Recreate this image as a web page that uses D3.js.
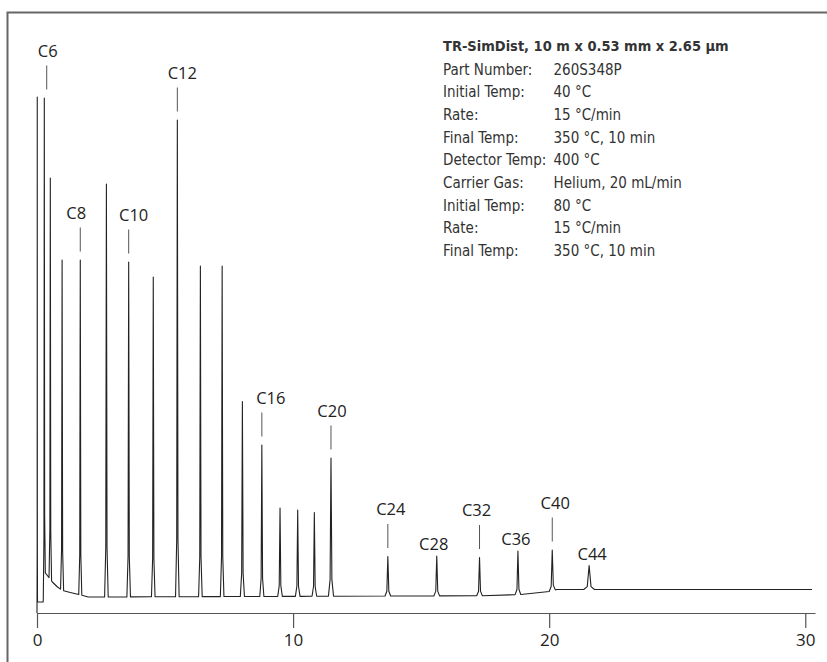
<!DOCTYPE html>
<html lang="en">
<head>
    <meta charset="utf-8">
    <title>TR-SimDist chromatogram</title>
    <script src="https://cdn.jsdelivr.net/npm/d3@7"></script>
    <style>
        body { margin: 0; background: #fff; }
        .legend text { font-family: "DejaVu Sans", sans-serif; font-stretch: condensed; fill: #333; }
        .peak-label { font-family: "Open Sans", sans-serif; font-size: 16.5px; fill: #222; }
        .axis text { font-family: "Open Sans", sans-serif; font-size: 17px; fill: #222; }
    </style>
</head>
<body>
<svg id="chart"></svg>
<script>
    // retention time (min), apex level (% of solvent peak), half base width (min)
    const peakTimes = [0.01, 0.285, 0.52, 0.98, 1.69, 2.71, 3.58, 4.54, 5.48, 6.38, 7.23,
        8.02, 8.78, 9.49, 10.18, 10.83, 11.48, 13.70, 15.61, 17.28, 18.78, 20.12, 21.56];
    const peakHeights = [100, 99.8, 83.8, 67.4, 67.4, 82.6, 67.0, 64.0, 95.4, 66.2, 66.2,
        39.1, 30.4, 17.8, 17.4, 16.9, 27.8, 8.1, 8.2, 7.9, 9.2, 9.4, 6.3];
    const peakWidths = [0.01, 0.04, 0.05, 0.06, 0.06, 0.07, 0.07, 0.07, 0.07, 0.07, 0.07,
        0.08, 0.08, 0.09, 0.09, 0.09, 0.1, 0.11, 0.11, 0.11, 0.11, 0.12, 0.21];

    // baseline drift (solvent tail at the start, column bleed at the end)
    const baseTimes = [0, 0.02, 0.24, 0.3, 0.45, 0.6, 0.8, 1.0, 1.3, 1.7, 2.0, 17.4, 18.9, 20.0, 20.3, 30.26];
    const baseLevels = [-3.2, -1, -1, 5, 4, 3, 2, 1.3, 0.9, 0.4, 0, 0.25, 0.5, 1.1, 1.5, 1.5];

    const labelNames = ["C6", "C8", "C10", "C12", "C16", "C20", "C24", "C28", "C32", "C36", "C40", "C44"];
    const labelTimes = [0.38, 1.69, 3.58, 5.48, 8.78, 11.48, 13.70, 15.61, 17.28, 18.78, 20.12, 21.56];
    const labelHasLine = [true, true, true, true, true, true, true, false, true, false, true, false];

    const xTicks = [0, 10, 20, 30];

    const legendTitle = "TR-SimDist, 10 m x 0.53 mm x 2.65 µm";
    const legendKeys = ["Part Number:", "Initial Temp:", "Rate:", "Final Temp:", "Detector Temp:",
        "Carrier Gas:", "Initial Temp:", "Rate:", "Final Temp:"];
    const legendValues = ["260S348P", "40 °C", "15 °C/min", "350 °C, 10 min", "400 °C",
        "Helium, 20 mL/min", "80 °C", "15 °C/min", "350 °C, 10 min"];

    const width = 827, height = 662;
    const svg = d3.select("#chart").attr("width", width).attr("height", height);

    const x = d3.scaleLinear().domain([0, 30.38]).range([37, 815]);
    const y = d3.scaleLinear().domain([0, 100]).range([597, 97]);
    const base = d3.scaleLinear().domain(baseTimes).range(baseLevels).clamp(true);

    // frame (top and left edges only)
    svg.append("path")
        .attr("d", `M7.5,${height} V12.5 H${width}`)
        .attr("fill", "none")
        .attr("stroke", "#666")
        .attr("stroke-width", 2);

    // x axis
    const axis = svg.append("g")
        .attr("class", "axis")
        .attr("transform", "translate(0,613)")
        .call(d3.axisBottom(x).tickValues(xTicks).tickSize(15).tickSizeOuter(0).tickPadding(6));
    axis.select(".domain").attr("stroke", "#555").attr("stroke-width", 1.2);
    axis.selectAll(".tick line").attr("stroke", "#555").attr("stroke-width", 1.2);

    // build trace: baseline knots outside peaks + a few points per peak
    let pts = [];
    peakTimes.forEach((t, i) => {
        const w = peakWidths[i], h = peakHeights[i];
        const bl = base(t - w), br = base(t + w);
        pts.push([t - w, bl]);
        pts.push([t - 0.35 * w, bl + 0.12 * (h - bl)]);
        pts.push([t, h]);
        pts.push([t + 0.35 * w, br + 0.12 * (h - br)]);
        pts.push([t + w, br]);
    });
    baseTimes.forEach((t, i) => {
        const inside = peakTimes.some((p, j) => t > p - peakWidths[j] && t < p + peakWidths[j]);
        if (!inside) pts.push([t, baseLevels[i]]);
    });
    pts.sort((a, b) => a[0] - b[0]);

    svg.append("path")
        .datum(pts)
        .attr("fill", "none")
        .attr("stroke", "#222")
        .attr("stroke-width", 1.1)
        .attr("stroke-linejoin", "round")
        .attr("d", d3.line().x(d => x(d[0])).y(d => y(d[1])));

    // peak labels
    const nudge = {C6: 1, C8: -4, C10: 5, C12: 5, C16: 9, C20: 1, C24: 3, C28: -3, C32: -3, C36: -2, C40: 3, C44: 3};
    const labels = svg.append("g");
    labelNames.forEach((name, i) => {
        const t = labelTimes[i];
        const j = d3.minIndex(peakTimes, p => Math.abs(p - t));
        const top = y(peakHeights[j]);
        const lx = x(t);
        let ty = top - 6;
        if (labelHasLine[i]) {
            labels.append("line")
                .attr("x1", lx).attr("x2", lx)
                .attr("y1", top - 8.5).attr("y2", top - 32.5)
                .attr("stroke", "#555").attr("stroke-width", 1);
            ty = top - 41.5;
        }
        labels.append("text")
            .attr("class", "peak-label")
            .attr("x", lx + nudge[name])
            .attr("y", ty)
            .attr("text-anchor", "middle")
            .text(name);
    });

    // method conditions
    const legend = svg.append("g").attr("class", "legend");
    legend.append("text")
        .attr("x", 443).attr("y", 50.5)
        .attr("font-size", "14.5px")
        .attr("font-weight", "bold")
        .attr("fill", "#222")
        .text(legendTitle);
    legend.selectAll("text.key")
        .data(legendKeys)
        .join("text")
        .attr("class", "key")
        .attr("x", 443)
        .attr("y", (d, i) => 74.7 + i * 22.67)
        .attr("font-size", "15px")
        .text(d => d);
    legend.selectAll("text.val")
        .data(legendValues)
        .join("text")
        .attr("class", "val")
        .attr("x", 553.5)
        .attr("y", (d, i) => 74.7 + i * 22.67)
        .attr("font-size", "15px")
        .text(d => d);
</script>
</body>
</html>
